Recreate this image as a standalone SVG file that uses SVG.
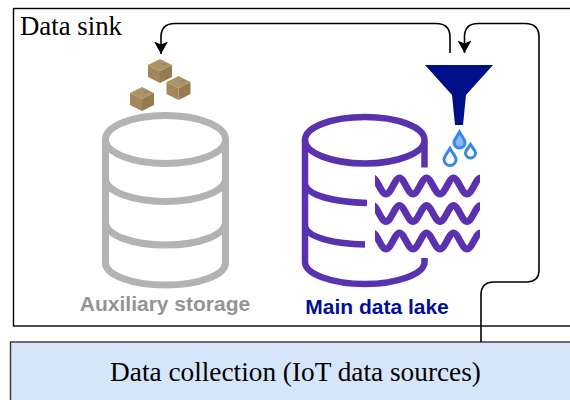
<svg xmlns="http://www.w3.org/2000/svg" width="570" height="400" viewBox="0 0 570 400">
<style>
.serif{font-family:"Liberation Serif","Times New Roman",serif;fill:#000}
.sans{font-family:"Liberation Sans",Arial,sans-serif;font-weight:700;font-size:21px}
.conn{fill:none;stroke:#000;stroke-width:1.6}
.gray{fill:none;stroke:#b3b3b3;stroke-width:7}
.purple{fill:none;stroke:#5a32b0;stroke-width:6.500}
.wave{fill:none;stroke:#5a32b0;stroke-width:7}
.drop{fill:#fff;stroke:#3388ee;stroke-width:3}
.cube-top{fill:#ad9465}.cube-l{fill:#a3875a}.cube-r{fill:#967b4e}
</style>
<defs>
<marker id="arrow" markerUnits="userSpaceOnUse" markerWidth="13" markerHeight="14" refX="12.500" refY="7" orient="auto" viewBox="0 0 13 14"><path d="M0 0L12.500 7L0 14L3 7Z" fill="#000"/></marker>
<clipPath id="wave-clip"><rect x="375" y="165" width="105" height="100"/></clipPath>
<g id="cube">
<path class="cube-top" d="M0-12L12-6L0 0L-12-6Z"/>
<path class="cube-l" d="M-12-6L0 0V12L-12 6Z"/>
<path class="cube-r" d="M12-6L0 0V12L12 6Z"/>
<circle cx="-7" cy="0" r="1" fill="#7f8080"/><circle cx="6" cy="3" r="1" fill="#7f8080"/><ellipse cx="4" cy="-7" rx="3" ry="1" fill="#8a8a80"/>
</g>
<path id="wavy" d="M372.500 178C377 178 381 194 386 194C391 194 395 178 399.500 178C404 178 408 194 413 194C418 194 422 178 426.500 178C431 178 435 194 440 194C445 194 449 178 453.500 178C458 178 462 194 467 194C472 194 476 178 480.500 178C483 178 485 182 487 186"/>
</defs>

<g id="data-sink">
<rect x="13.500" y="8.500" width="570" height="317.500" fill="#fff" stroke="#000" stroke-width="1.400"/>
<text class="serif" x="20" y="34.500" font-size="26.800">Data sink</text>
</g>

<g id="data-collection">
<rect x="10.500" y="342" width="570" height="70" fill="#d6e6fa" stroke="#333" stroke-width="1.400"/>
<text class="serif" x="295.500" y="380.500" font-size="27.300" text-anchor="middle">Data collection (IoT data sources)</text>
</g>

<g id="aux-cubes">
<use href="#cube" x="160" y="71"/>
<use href="#cube" x="178.500" y="88"/>
<use href="#cube" x="142" y="99"/>
</g>

<g id="auxiliary-storage">
<ellipse class="gray" cx="165.500" cy="139.500" rx="60" ry="24"/>
<path class="gray" d="M105.500 139.500V263C105.500 275 132 285 165.500 285C199 285 225.500 275 225.500 263V139.500"/>
<path class="gray" d="M105.500 179C105.500 191 132 201.500 165.500 201.500C199 201.500 225.500 191 225.500 179"/>
<path class="gray" d="M105.500 222C105.500 235 132 245 165.500 245C199 245 225.500 235 225.500 222"/>
<text class="sans" x="165" y="311" text-anchor="middle" fill="#949494">Auxiliary storage</text>
</g>

<g id="main-data-lake">
<path class="purple" d="M424.500 167.500V140C424.500 127 397 117 365 117C332 117 305 127 305 140C305 153 332 163.500 365 163.500C397 163.500 424.500 153 424.500 140"/>
<path class="purple" d="M305 140V262C305 274 332 284 365 284C397 284 424.500 274 424.500 262V258"/>
<path class="purple" d="M305 185C309 196 335 202 367 203"/>
<path class="purple" d="M305 227C309 238 335 244 365 244.500"/>
<g clip-path="url(#wave-clip)">
<use href="#wavy" class="wave"/>
<use href="#wavy" class="wave" y="27.500"/>
<use href="#wavy" class="wave" y="55"/>
</g>
<text class="sans" x="377" y="314" text-anchor="middle" fill="#000f96">Main data lake</text>
</g>

<g id="funnel">
<path d="M425 65H493L466 95L463 125H455L452 95Z" fill="#001088"/>
<path d="M459.500 132C462 137 465 139 465 142.500A5.500 5.500 0 0 1 454 142.500C454 139 457 137 459.500 132Z" fill="#8ab8f5" stroke="#3388ee" stroke-width="3"/>
<path class="drop" d="M450 148.500C452.500 153 456 156 456 159.500A6 6 0 0 1 444 159.500C444 156 447.500 153 450 148.500Z"/>
<path class="drop" d="M470.500 144.500C472.500 148 475.500 150.500 475.500 153A5 5 0 0 1 465.500 153C465.500 150.500 468.500 148 470.500 144.500Z"/>
</g>

<g id="connectors">
<path class="conn" marker-end="url(#arrow)" d="M450 53V37Q450 23.500 436 23.500H175Q161 23.500 161 37V54"/>
<path class="conn" marker-end="url(#arrow)" d="M481 342V295Q481 282 494 282H526Q539 282 539 270V37Q539 23.500 525 23.500H478Q464.500 23.500 464.500 37V53"/>
</g>
</svg>
